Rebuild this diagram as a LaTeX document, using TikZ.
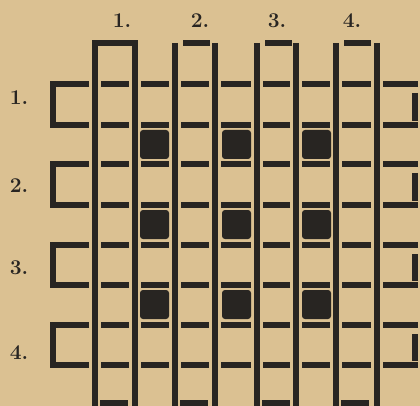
\documentclass[tikz,border=0pt]{standalone}
\usepackage{tikz}
\usetikzlibrary{positioning}
\definecolor{paper}{RGB}{219,193,146}
\definecolor{ink}{RGB}{40,37,34}
\tikzset{
  strip/.style={draw=ink, line width=5.5pt, line join=miter},
  hole/.style={fill=ink, rounded corners=3pt},
  num/.style={text=ink, font=\fontsize{21}{23}\selectfont\bfseries, inner sep=0pt}
}

\begin{document}
\begin{tikzpicture}[x=1pt, y=-1pt]
    \fill[paper] (0,0) rectangle (420,406);
    \useasboundingbox (0,0) rectangle (420,406);

    % vertical strips, the first one closed at the top
    \draw[strip] (95,406) -- (95,43) -- (135,43) -- (135,406);
    \foreach \x in {175,215,257,296,336,377} \draw[strip] (\x,43) -- (\x,406);
    \foreach \x in {175,257,336} \draw[strip] (\x+8,43) -- (\x+35,43);
    \foreach \x in {95,175,257,336} \draw[strip] (\x+5,403) -- (\x+33,403);

    % horizontal strips, closed on the left, broken at every crossing
    \foreach \ya/\yb in {84/125,164/205,245/285,325/365} {
        \draw[strip] (89,\ya) -- (53,\ya) -- (53,\yb) -- (89,\yb);
        \foreach \xa/\xb in {95/135,135/175,175/215,215/257,257/296,296/336,336/377} {
            \draw[strip] (\xa+6,\ya) -- (\xb-6,\ya);
            \draw[strip] (\xa+6,\yb) -- (\xb-6,\yb);
        }
        \draw[strip] (383,\ya) -- (418,\ya);
        \draw[strip] (383,\yb) -- (418,\yb);
        \draw[strip] (415,\ya+9) -- (415,\yb-4);
    }

    % black squares in the openings
    \foreach \x in {140,222,302}
        \foreach \y in {130,210,290}
            \fill[hole] (\x,\y) rectangle ++(29,29);

    % numbers
    \foreach \n/\x in {1/122,2/200,3/277,4/352}
        \node[num] (col\n) at (\x,21) {\n.};
    \foreach \n/\y in {1/98,2/186,3/268,4/353}
        \node[num] (row\n) at (19,\y) {\n.};
\end{tikzpicture}
\end{document}
